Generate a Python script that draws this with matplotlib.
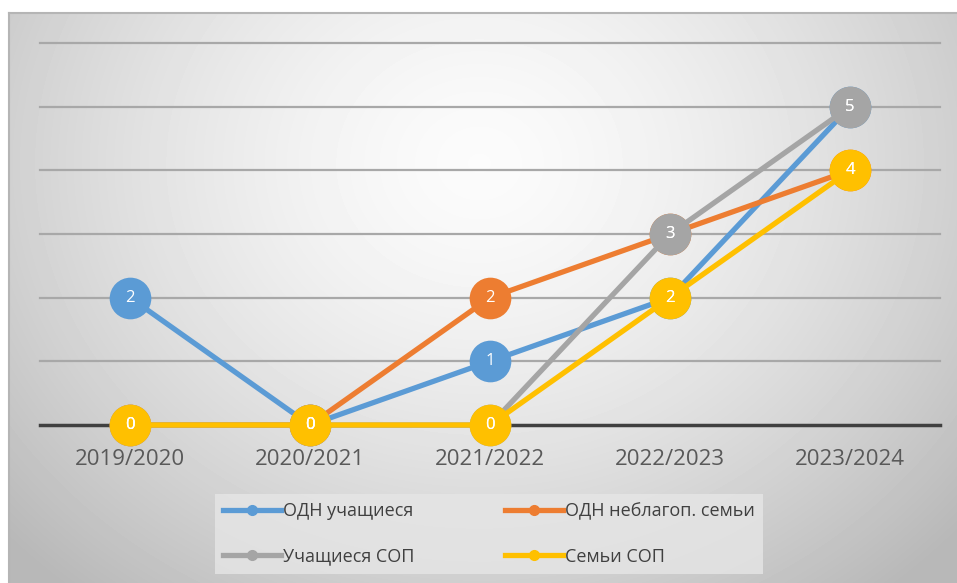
import numpy as np
import matplotlib.pyplot as plt
from matplotlib.lines import Line2D

years = ['2019/2020', '2020/2021', '2021/2022', '2022/2023', '2023/2024']
odn_students = [2, 0, 1, 2, 5]
odn_families = [0, 0, 2, 3, 4]
sop_students = [0, 0, 0, 3, 5]
sop_families = [0, 0, 0, 2, 4]

series_names = ['ОДН учащиеся', 'ОДН неблагоп. семьи', 'Учащиеся СОП', 'Семьи СОП']
series_values = [odn_students, odn_families, sop_students, sop_families]
colors = ['#5B9BD5', '#ED7D31', '#A5A5A5', '#FFC000']

plt.rcParams['font.family'] = ['Open Sans', 'DejaVu Sans']

W, H = 957, 583
fig = plt.figure(figsize=(W / 100, H / 100), dpi=100)
fig.patch.set_facecolor('white')

# radial grey background of the chart area
bg = fig.add_axes([9 / W, 0, (W - 9) / W, (H - 13) / H])
yy, xx = np.mgrid[0:570, 0:948]
r = np.sqrt(((xx - 470) / 600.0) ** 2 + ((yy - 150) / 520.0) ** 2)
shade = np.clip(0.985 - 0.24 * r ** 1.5, 0.72, 1.0)
bg.imshow(shade, cmap='gray', vmin=0, vmax=1, aspect='auto', interpolation='bilinear')
bg.set_xticks([])
bg.set_yticks([])
for side in ['right', 'bottom']:
    bg.spines[side].set_visible(False)
for side in ['top', 'left']:
    bg.spines[side].set_color('#B5B5B5')
    bg.spines[side].set_linewidth(1.5)

ax = fig.add_axes([40 / W, (H - 425) / H, 900 / W, 382 / H])
ax.patch.set_visible(False)
x = np.arange(len(years))
ax.set_xlim(-0.5, len(years) - 0.5)
ax.set_ylim(0, 6)
for v in range(1, 7):
    ax.axhline(v, color='#A8A8A8', lw=1.6, zorder=1, clip_on=False)
ax.axhline(0, color='#404040', lw=2.5, zorder=1, clip_on=False)

for name, vals, c in zip(series_names, series_values, colors):
    ax.plot(x, vals, color=c, lw=3.8, marker='o', markersize=30,
            markeredgewidth=0, zorder=3, label=name, clip_on=False)

for vals in series_values:
    for xi, v in zip(x, vals):
        ax.text(xi, v, str(v), color='white', fontsize=12, ha='center',
                va='center', zorder=5, clip_on=False)

ax.set_yticks([])
ax.set_xticks(x)
ax.set_xticklabels(years, fontsize=16, color='#595959')
ax.tick_params(axis='x', length=0, pad=17)
for s in ax.spines.values():
    s.set_visible(False)

# legend fills column by column, so order the entries for row-major look
order = [0, 2, 1, 3]
handles = [Line2D([0], [0], color=colors[i], lw=3.8, marker='o', markersize=7) for i in order]
labels = [series_names[i] for i in order]
leg = fig.legend(handles, labels, loc='center', bbox_to_anchor=(489 / W, (H - 534) / H),
                 ncol=2, fontsize=13, frameon=True, fancybox=False, handlelength=3.2,
                 handletextpad=0.15, columnspacing=5.0, labelspacing=1.5, borderpad=0.45)
leg.get_frame().set_facecolor('#E6E6E6')
leg.get_frame().set_edgecolor('none')
leg.get_frame().set_alpha(0.8)
for t in leg.get_texts():
    t.set_color('#404040')

fig.savefig('out.png', dpi=100)
